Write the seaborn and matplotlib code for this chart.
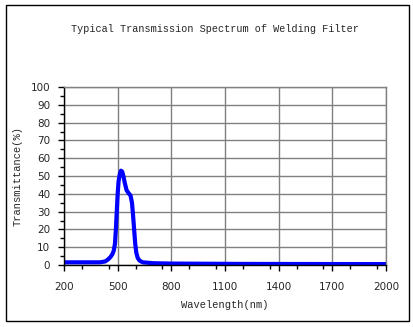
import matplotlib
matplotlib.use("Agg")
import matplotlib.pyplot as plt
import seaborn as sns
import pandas as pd
from matplotlib.patches import Rectangle
from matplotlib.ticker import MultipleLocator

wavelength = [200, 400, 430, 445, 460, 470, 478, 485, 490, 495, 500, 505, 512, 518, 525,
              532, 540, 550, 560, 572, 580, 586, 592, 598, 604, 612, 622, 640, 700, 800, 1200, 2000]
transmittance = [1.5, 1.5, 2.0, 3.0, 4.5, 6.0, 8.0, 12.0, 20.0, 30.0, 40.0, 47.0, 51.0, 53.0, 52.5,
                 50.0, 46.0, 42.0, 40.5, 39.0, 35.0, 28.0, 20.0, 12.0, 7.0, 4.0, 2.5, 1.5, 1.0, 0.8, 0.6, 0.5]
x_ticks = [200, 500, 800, 1100, 1400, 1700, 2000]
y_ticks = list(range(0, 101, 10))

df = pd.DataFrame({"wl": wavelength, "T": transmittance})

sns.set_theme(style="white")
plt.rcParams['font.family'] = ['DejaVu Sans']

fig = plt.figure(figsize=(4.14, 3.27), dpi=100)
ax = fig.add_axes([64/414, 1-265/327, (386-64)/414, (265-87)/327])

sns.lineplot(data=df, x="wl", y="T", ax=ax, color="#0000ff", linewidth=3.0)

ax.set_xlim(200, 2000)
ax.set_ylim(0, 100)
ax.set_xticks(x_ticks)
ax.set_yticks(y_ticks)
ax.xaxis.set_minor_locator(MultipleLocator(150))
ax.yaxis.set_minor_locator(MultipleLocator(5))
ax.grid(True, which="major", color="#808080", linewidth=1)
ax.tick_params(axis="x", which="major", direction="out", length=4, width=1, color="black",
               labelsize=7.5, pad=8, bottom=True)
ax.tick_params(axis="y", which="major", direction="out", length=4, width=1, color="black",
               labelsize=7.5, pad=6, left=True)
ax.tick_params(axis="both", which="minor", direction="out", length=3, width=1, color="black",
               bottom=True, left=True)
for s in ["left", "bottom"]:
    ax.spines[s].set_color("black")
    ax.spines[s].set_linewidth(1)
for s in ["top", "right"]:
    ax.spines[s].set_color("#808080")
    ax.spines[s].set_linewidth(1)

ax.set_xlabel("Wavelength(nm)", family="Liberation Mono", fontsize=7.5, labelpad=6)
ax.set_ylabel("Transmittance(%)", family="Liberation Mono", fontsize=7.5, labelpad=6)

fig.text(215/414, 1-29/327, "Typical Transmission Spectrum of Welding Filter",
         family="Liberation Mono", fontsize=7.3, ha="center", va="center")

fig.patches.append(Rectangle((6/414, 6/327), 403/414, 316/327, transform=fig.transFigure,
                             fill=False, edgecolor="black", linewidth=1))

fig.savefig("out.png", dpi=100)
